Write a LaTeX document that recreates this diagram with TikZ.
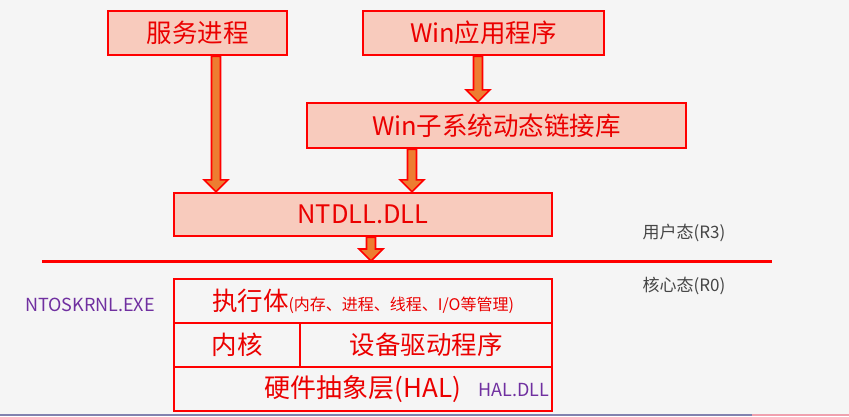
\documentclass[tikz,border=0pt]{standalone}
\usepackage{fontspec}
\setmainfont{Noto Sans CJK SC}
\usetikzlibrary{calc}
\definecolor{bg}{RGB}{245,245,245}
\definecolor{boxfill}{RGB}{248,203,189}
\definecolor{bred}{RGB}{255,0,0}
\definecolor{tred}{RGB}{235,0,0}
\definecolor{aorange}{RGB}{237,125,49}
\definecolor{purp}{RGB}{112,48,160}
\definecolor{dgray}{RGB}{70,70,70}
\definecolor{barpurp}{RGB}{130,130,175}
\definecolor{barpink}{RGB}{240,160,175}
\tikzset{
  ubox/.style={draw=bred, line width=2.4pt, fill=boxfill, inner sep=0pt, text=tred, font=\fontsize{25.5}{28}\selectfont},
  kbox/.style={draw=bred, line width=2.4pt, inner sep=0pt, text=tred, font=\fontsize{25.5}{28}\selectfont},
  barrowstyle/.style={draw=bred, fill=aorange, line width=1.6pt, line join=miter},
  sidelabel/.style={text=dgray, inner sep=0pt, font=\fontsize{17}{19}\selectfont},
  purplabel/.style={text=purp, inner sep=0pt, font=\fontsize{18}{20}\selectfont},
}
\newcommand\blockarrow[2]{%
  \draw[barrowstyle] ($(#1)+(-4.5,0)$) -- ($(#2)+(-4.5,-12)$) -- ($(#2)+(-12,-12)$) -- (#2)
    -- ($(#2)+(12,-12)$) -- ($(#2)+(4.5,-12)$) -- ($(#1)+(4.5,0)$) -- cycle;}
\begin{document}
\begin{tikzpicture}[x=1pt,y=-1pt]
\useasboundingbox (0,0) rectangle (849,416);
\fill[bg] (0,0) rectangle (849,416);
\fill[barpurp] (0,413.5) rectangle (752,416);
\fill[barpink] (752,413.5) rectangle (849,416);

% user-mode boxes
\node[ubox, minimum width=179pt, minimum height=44pt] (svc) at (197.5,33) {服务进程};
\node[ubox, minimum width=241pt, minimum height=44pt] (app) at (483.5,33) {Win应用程序};
\node[ubox, minimum width=379pt, minimum height=45pt] (sub) at (496.5,125.5) {Win子系统动态链接库};
\node[ubox, minimum width=378pt, minimum height=43pt] (ntdll) at (363,214.5) {NTDLL.DLL};

% kernel boxes
\node[kbox, minimum width=378pt, minimum height=44pt] (exec) at (363,301) {执行体{\fontsize{16}{18}\selectfont(内存、进程、线程、I/O等管理)}};
\node[kbox, minimum width=126pt, minimum height=44pt] (kern) at (237,345) {内核};
\node[kbox, minimum width=252pt, minimum height=44pt] (drv) at (426,345) {设备驱动程序};
\node[kbox, minimum width=378pt, minimum height=44pt] (hal) at (363,389) {};
\node[text=tred, inner sep=0pt, font=\fontsize{26}{28}\selectfont] (haltext) at (hal.center) {硬件抽象层(HAL)};

% mode separator
\coordinate (lineL) at (42,261);
\coordinate (lineR) at (772,261);

% arrows
\coordinate (a1s) at (216,0 |- svc.south);
\coordinate (a1e) at (216,0 |- ntdll.north);
\blockarrow{a1s}{a1e}
\coordinate (a2s) at (478,0 |- app.south);
\coordinate (a2e) at (478,0 |- sub.north);
\blockarrow{a2s}{a2e}
\coordinate (a3s) at (412,0 |- sub.south);
\coordinate (a3e) at (412,0 |- ntdll.north);
\blockarrow{a3s}{a3e}
\coordinate (a4s) at (371,0 |- ntdll.south);
\coordinate (a4e) at (371,0 |- lineL);
\blockarrow{a4s}{a4e}

\draw[bred, line width=3pt] (lineL) -- (lineR);

% labels
\node[sidelabel] (r3) at (684,233) {用户态(R3)};
\node[sidelabel] (r0) at (684,286) {核心态(R0)};
\node[purplabel] (ntos) at (90,305) {NTOSKRNL.EXE};
\node[purplabel] (haldll) at (514,390) {HAL.DLL};
\end{tikzpicture}
\end{document}
